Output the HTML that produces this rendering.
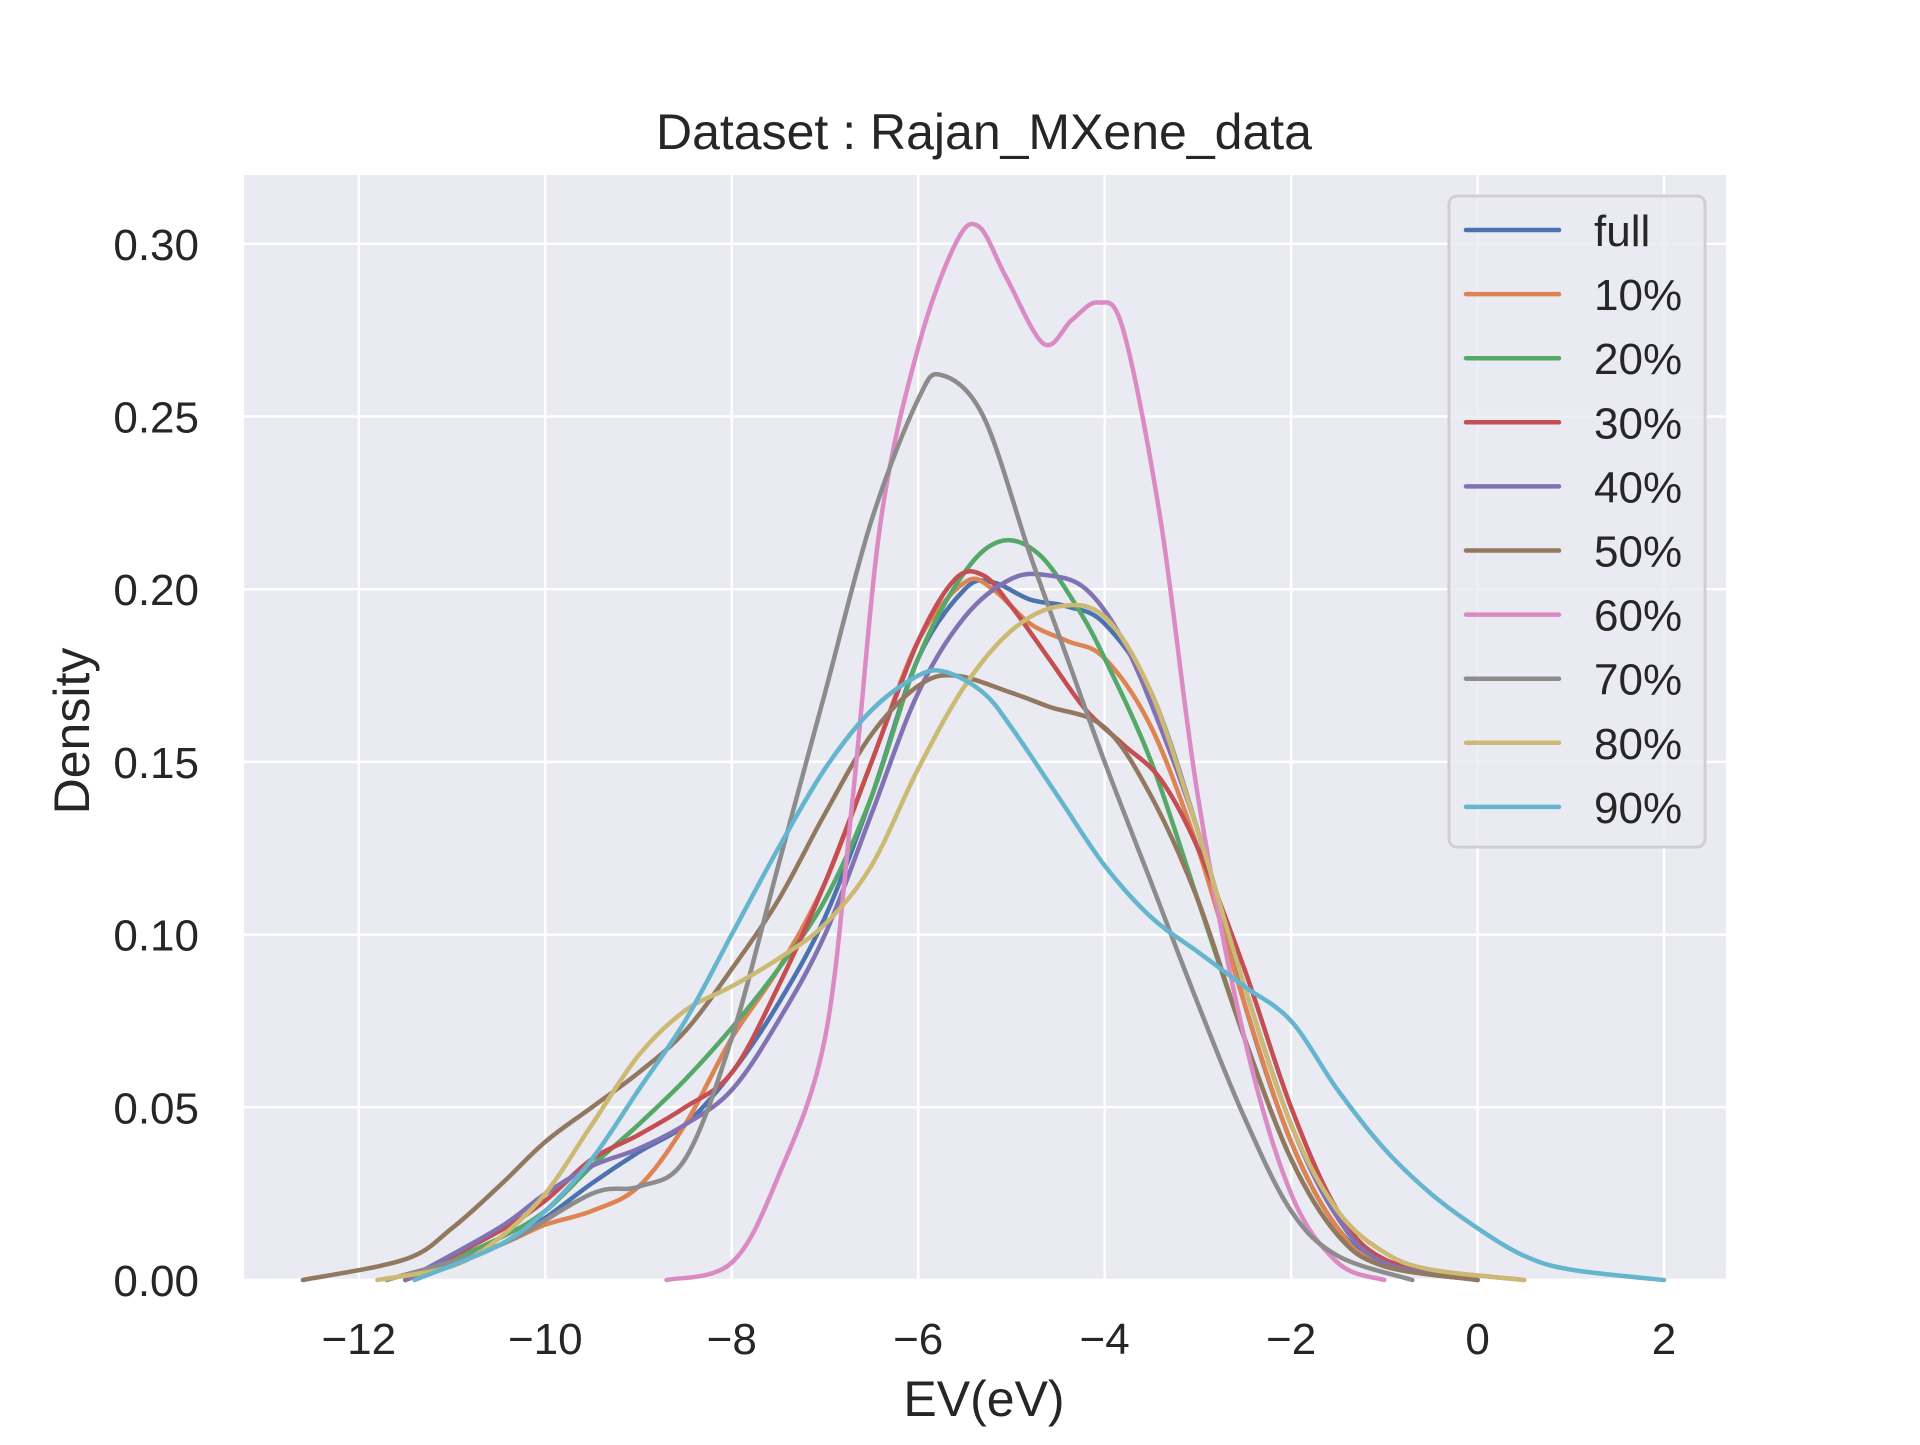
<!DOCTYPE html>
<html><head><meta charset="utf-8"><style>
html,body{margin:0;padding:0;background:#fff}
svg text{font-family:"Liberation Sans","DejaVu Sans",sans-serif;fill:#262626}
</style></head><body>
<svg id="chart" width="1920" height="1440" viewBox="0 0 1920 1440" xmlns="http://www.w3.org/2000/svg">
<rect x="244" y="175" width="1482" height="1105" fill="#eaeaf2"/>
<g id="grid"></g>
<g id="curves"></g>
<g id="ticks"></g>
<text x="984" y="149" font-size="50" text-anchor="middle">Dataset : Rajan_MXene_data</text>
<text x="984" y="1416" font-size="50" text-anchor="middle">EV(eV)</text>
<text x="0" y="0" font-size="50" text-anchor="middle" transform="translate(89,731) rotate(-90)">Density</text>
<g id="legend"></g>
</svg>
<script>
const seriesNames=["full","10%","20%","30%","40%","50%","60%","70%","80%","90%"];
const seriesColors=["#4c72b0","#dd8452","#55a868","#c44e52","#8172b3","#937860","#da8bc3","#8c8c8c","#ccb974","#64b5cd"];
const xTicks=[-12,-10,-8,-6,-4,-2,0,2];
const yTicks=[0,0.05,0.10,0.15,0.20,0.25,0.30];
const sFull=[[-11.5,0],[-10.5,0.01],[-10,0.018],[-9.5,0.028],[-9,0.037],[-8.5,0.045],[-8,0.06],[-7.5,0.08],[-7,0.105],[-6.5,0.14],[-6,0.18],[-5.5,0.2],[-5.2,0.202],[-4.8,0.197],[-4.4,0.195],[-4,0.19],[-3.5,0.17],[-3,0.13],[-2.5,0.08],[-2,0.04],[-1.5,0.015],[-1,0.005],[0,0]];
const s10=[[-11.5,0],[-10.5,0.01],[-10,0.016],[-9.5,0.02],[-9,0.027],[-8.5,0.045],[-8,0.07],[-7.5,0.09],[-7,0.115],[-6.5,0.15],[-6,0.185],[-5.5,0.202],[-5.2,0.2],[-4.8,0.19],[-4.4,0.185],[-4,0.18],[-3.5,0.16],[-3,0.125],[-2.5,0.08],[-2,0.04],[-1.5,0.015],[-1,0.005],[0.5,0]];
const s20=[[-11.5,0],[-10.5,0.012],[-10,0.02],[-9.5,0.033],[-9,0.045],[-8.5,0.058],[-8,0.073],[-7.5,0.09],[-7,0.11],[-6.5,0.14],[-6,0.18],[-5.5,0.205],[-5.1,0.214],[-4.7,0.21],[-4.3,0.195],[-4,0.18],[-3.5,0.15],[-3,0.11],[-2.5,0.07],[-2,0.035],[-1.5,0.013],[-1,0.004],[0,0]];
const s30=[[-11.5,0],[-10.5,0.014],[-10,0.023],[-9.5,0.035],[-9,0.042],[-8.5,0.05],[-8,0.06],[-7.5,0.085],[-7,0.115],[-6.5,0.15],[-6,0.185],[-5.6,0.203],[-5.3,0.204],[-5,0.195],[-4.6,0.18],[-4.2,0.165],[-3.8,0.155],[-3.4,0.145],[-3,0.125],[-2.5,0.09],[-2,0.05],[-1.5,0.02],[-1,0.006],[0,0]];
const s40=[[-11.5,0],[-10.5,0.015],[-10,0.025],[-9.5,0.033],[-9,0.038],[-8.5,0.045],[-8,0.055],[-7.5,0.075],[-7,0.1],[-6.5,0.135],[-6,0.17],[-5.5,0.192],[-5,0.203],[-4.6,0.204],[-4.2,0.2],[-3.8,0.185],[-3.4,0.16],[-3,0.13],[-2.5,0.085],[-2,0.045],[-1.5,0.018],[-1,0.005],[0,0]];
const s50=[[-12.6,0],[-11.5,0.006],[-11,0.015],[-10.5,0.027],[-10,0.04],[-9.5,0.05],[-9,0.06],[-8.5,0.072],[-8,0.09],[-7.5,0.11],[-7,0.135],[-6.5,0.158],[-6,0.172],[-5.6,0.175],[-5,0.17],[-4.6,0.166],[-4,0.16],[-3.5,0.14],[-3,0.11],[-2.5,0.07],[-2,0.035],[-1.5,0.013],[-1,0.004],[0,0]];
const s60=[[-8.7,0],[-8,0.005],[-7.5,0.03],[-7,0.07],[-6.7,0.14],[-6.4,0.22],[-6,0.27],[-5.6,0.3],[-5.35,0.305],[-5.05,0.29],[-4.65,0.271],[-4.35,0.278],[-4.07,0.283],[-3.8,0.275],[-3.4,0.22],[-3,0.14],[-2.5,0.07],[-2,0.025],[-1.5,0.005],[-1,0]];
const s70=[[-11.7,0],[-10.5,0.01],[-9.5,0.025],[-9,0.027],[-8.5,0.035],[-8,0.07],[-7.5,0.12],[-7,0.17],[-6.5,0.22],[-6,0.255],[-5.75,0.262],[-5.3,0.25],[-4.8,0.21],[-4.4,0.18],[-4,0.15],[-3.5,0.115],[-3,0.08],[-2.5,0.047],[-2,0.02],[-1.5,0.007],[-0.7,0]];
const s80=[[-11.8,0],[-11,0.004],[-10.5,0.012],[-10,0.025],[-9.5,0.045],[-9,0.065],[-8.5,0.078],[-8,0.085],[-7.5,0.093],[-7,0.103],[-6.5,0.12],[-6,0.148],[-5.5,0.172],[-5,0.188],[-4.5,0.195],[-4,0.192],[-3.5,0.17],[-3,0.13],[-2.5,0.085],[-2,0.045],[-1.5,0.02],[-1,0.008],[-0.5,0.003],[0.5,0]];
const s90=[[-11.4,0],[-10.5,0.01],[-10,0.02],[-9.5,0.035],[-9,0.055],[-8.5,0.075],[-8,0.1],[-7.5,0.125],[-7,0.148],[-6.5,0.165],[-6,0.175],[-5.7,0.176],[-5.3,0.17],[-5,0.16],[-4.5,0.14],[-4,0.12],[-3.5,0.105],[-3,0.095],[-2.5,0.085],[-2,0.075],[-1.5,0.055],[-1,0.038],[-0.5,0.025],[0,0.015],[0.5,0.007],[1,0.003],[2,0]];
const allSeries=[sFull,s10,s20,s30,s40,s50,s60,s70,s80,s90];

const NS="http://www.w3.org/2000/svg";
const L=244,R=1726,T=175,B=1280;
function xs(v){return 358.8+(v+12)*93.23;}
function ys(v){return 1280-v*3454;}
function mk(tag,attrs,parent){const e=document.createElementNS(NS,tag);for(const k in attrs)e.setAttribute(k,attrs[k]);parent.appendChild(e);return e;}
const grid=document.getElementById('grid'),ticks=document.getElementById('ticks');
xTicks.forEach(t=>{
  const l=mk('line',{x1:xs(t),x2:xs(t),y1:T,y2:B,stroke:'#fff','stroke-width':2.5},grid);
  
  
  const tx=mk('text',{x:xs(t),y:1354,'font-size':44,'text-anchor':'middle'},ticks);
  tx.textContent=(t<0?'\u2212'+(-t):''+t);
  
  
});
yTicks.forEach(t=>{
  const l=mk('line',{x1:L,x2:R,y1:ys(t),y2:ys(t),stroke:'#fff','stroke-width':2.5},grid);
  
  
  const tx=mk('text',{x:199,y:ys(t)+16,'font-size':44,'text-anchor':'end'},ticks);
  tx.textContent=t.toFixed(2);
  
  
});
function pathFor(pts){
  const p=pts.map(q=>[xs(q[0]),ys(q[1])]);
  let d='M'+p[0][0].toFixed(1)+','+p[0][1].toFixed(1);
  for(let i=0;i<p.length-1;i++){
    const p0=p[Math.max(i-1,0)],p1=p[i],p2=p[i+1],p3=p[Math.min(i+2,p.length-1)];
    const c1=[p1[0]+(p2[0]-p0[0])/6,p1[1]+(p2[1]-p0[1])/6];
    const c2=[p2[0]-(p3[0]-p1[0])/6,p2[1]-(p3[1]-p1[1])/6];
    d+=' C'+c1[0].toFixed(1)+','+Math.min(c1[1],B).toFixed(1)+' '+c2[0].toFixed(1)+','+Math.min(c2[1],B).toFixed(1)+' '+p2[0].toFixed(1)+','+p2[1].toFixed(1);
  }
  return d;
}
const curves=document.getElementById('curves');
allSeries.forEach((s,i)=>{
  const p=mk('path',{d:pathFor(s),fill:'none',stroke:seriesColors[i],'stroke-width':4.5,'stroke-linejoin':'round','stroke-linecap':'round'},curves);
  
  
});
const lg=document.getElementById('legend');
const box=mk('rect',{x:1449,y:196,width:256,height:651,rx:8,fill:'#eaeaf2','fill-opacity':0.8,stroke:'#d0d0d0','stroke-width':3},lg);


seriesNames.forEach((n,i)=>{
  const y=230+i*64.1;
  const l=mk('line',{x1:1466,x2:1559,y1:y,y2:y,stroke:seriesColors[i],'stroke-width':4.5,'stroke-linecap':'round'},lg);
  
  
  const t=mk('text',{x:1594,y:y+16,'font-size':44},lg);
  t.textContent=n;
  
  
});
</script>
</body></html>
